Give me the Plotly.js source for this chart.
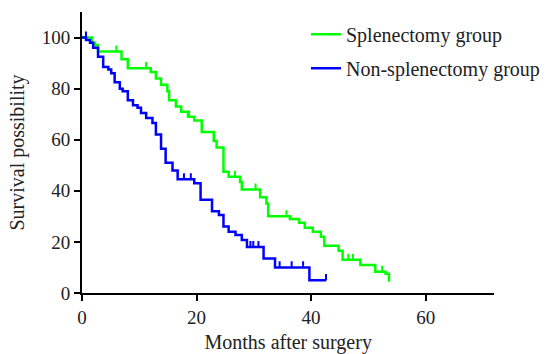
<!DOCTYPE html>
<html>
<head>
<meta charset="utf-8">
<script src="https://cdn.plot.ly/plotly-3.0.1.min.js"></script>
<style>html,body{margin:0;padding:0;background:#fff;}#chart{width:545px;height:354px;}</style>
</head>
<body>
<div id="chart"></div>
<script>
// Splenectomy group: step times (months) and survival (%)
var splenTime = [0, 1.7, 2.3, 2.8, 6.9, 8.0, 12.0, 12.9, 13.8, 14.9, 15.2, 16.4, 17.3, 18.5, 19.6, 20.9, 23.0, 23.5, 24.7, 25.6, 27.6, 27.9, 31.1, 32.2, 32.5, 36.3, 37.9, 38.9, 40.3, 41.7, 42.3, 44.8, 45.5, 48.6, 51.2, 53.0, 53.6];
var splenSurv = [100, 98, 97, 94.5, 91.5, 88, 86.5, 84, 81.5, 79, 75.5, 73, 71, 69, 67.5, 63, 59.5, 57, 47.5, 45.5, 43.5, 40.5, 37.5, 35, 30, 29, 27.5, 25.5, 24, 22, 18.5, 16.5, 13, 11, 8.3, 7.5, 4.4];
var splenCensTime = [6.0, 11.2, 18.7, 26.7, 30.3, 35.7, 46.5, 47.3, 52.4];
var splenCensSurv = [94.5, 88, 69, 45.5, 40.5, 30, 13, 13, 8.3];

// Non-splenectomy group
var nonTime = [0, 0.7, 1.4, 1.95, 2.8, 3.7, 4.6, 5.1, 5.7, 6.6, 7.1, 8.0, 8.9, 9.7, 10.3, 11.2, 12.3, 12.9, 13.8, 14.6, 15.8, 16.7, 19.6, 20.7, 22.7, 23.9, 24.7, 25.6, 26.8, 27.9, 28.8, 31.7, 33.7, 39.7, 42.6];
var nonSurv = [100, 99, 98, 96, 92.5, 88.5, 87.5, 86, 82.5, 80, 79, 75.5, 73.5, 72.5, 70.5, 68.5, 66.5, 62, 56.5, 51, 48, 44.5, 43, 36.5, 32, 30.5, 26, 24, 22.7, 20.7, 18, 13.5, 10, 5, 5];
var nonCensTime = [0.7, 17.8, 19.0, 29.4, 29.9, 30.8, 34.5, 36.6, 38.6, 42.6];
var nonCensSurv = [100, 44.5, 44.5, 18, 18, 18, 10, 10, 10, 5];

var xTicks = [0, 20, 40, 60];
var yTicks = [0, 20, 40, 60, 80, 100];

var green = 'rgb(0,255,0)';
var blue = 'rgb(0,0,255)';
var tickLen = 2.4;

function up(arr){ return arr.map(function(){ return tickLen; }); }
function zero(arr){ return arr.map(function(){ return 0; }); }

var traces = [
  {x: splenTime, y: splenSurv, type: 'scatter', mode: 'lines', line: {shape: 'hv', color: green, width: 2.5},
   name: 'Splenectomy group', legendgroup: 'a'},
  {x: nonTime, y: nonSurv, type: 'scatter', mode: 'lines', line: {shape: 'hv', color: blue, width: 2.5},
   name: 'Non-splenectomy group', legendgroup: 'b'},
  {x: splenCensTime, y: splenCensSurv, type: 'scatter', mode: 'markers', marker: {size: 1, color: green},
   error_y: {type: 'data', symmetric: false, array: up(splenCensTime), arrayminus: zero(splenCensTime), width: 0, thickness: 2, color: green},
   showlegend: false, hoverinfo: 'skip'},
  {x: nonCensTime, y: nonCensSurv, type: 'scatter', mode: 'markers', marker: {size: 1, color: blue},
   error_y: {type: 'data', symmetric: false, array: up(nonCensTime), arrayminus: zero(nonCensTime), width: 0, thickness: 2, color: blue},
   showlegend: false, hoverinfo: 'skip'}
];

var fam = 'Liberation Serif';

var layout = {
  width: 545, height: 354,
  margin: {l: 82, r: 0, t: 12, b: 61},
  paper_bgcolor: '#fff', plot_bgcolor: '#fff',
  font: {family: fam, size: 18, color: '#222'},
  showlegend: true,
  legend: {x: 0.488, xanchor: 'left', y: 0.99, yanchor: 'top', font: {family: fam, size: 20, color: '#222'},
           tracegroupgap: 5, traceorder: 'grouped', bgcolor: 'rgba(0,0,0,0)'},
  xaxis: {domain: [0, 0.8985], range: [0, 72], tickvals: xTicks, ticktext: xTicks.map(String), ticks: 'outside', ticklen: 6, tickwidth: 2,
          tickcolor: '#000', showline: true, linecolor: '#000', linewidth: 2, showgrid: false, zeroline: false,
          tickfont: {family: fam, size: 19, color: '#222'},
          title: {text: 'Months after surgery', font: {family: fam, size: 20, color: '#222'}, standoff: 10}},
  yaxis: {range: [0, 110], tickvals: yTicks, ticktext: yTicks.map(String), ticks: 'outside', ticklen: 6, tickwidth: 2,
          tickcolor: '#000', showline: true, linecolor: '#000', linewidth: 2, showgrid: false, zeroline: false,
          tickfont: {family: fam, size: 19, color: '#222'},
          title: {text: 'Survival possibility', font: {family: fam, size: 20, color: '#222'}, standoff: 12}}
};

Plotly.newPlot('chart', traces, layout, {displayModeBar: false, staticPlot: true});
</script>
</body>
</html>
